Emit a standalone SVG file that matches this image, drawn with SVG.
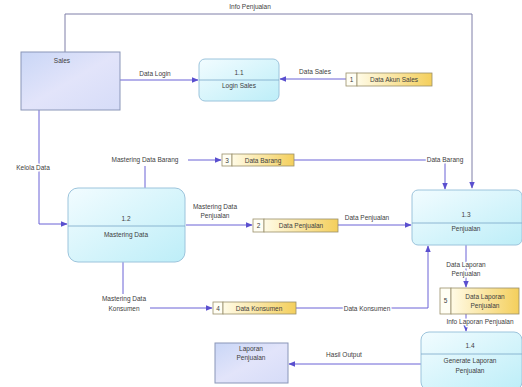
<svg xmlns="http://www.w3.org/2000/svg" width="522" height="387" viewBox="0 0 522 387">
<defs>
<linearGradient id="gp" x1="0" y1="0" x2="1" y2="1"><stop offset="0" stop-color="#f2fcff"/><stop offset="1" stop-color="#bdeef8"/></linearGradient>
<linearGradient id="ge" x1="0" y1="0" x2="1" y2="1"><stop offset="0" stop-color="#c9d6f6"/><stop offset="0.5" stop-color="#e2e4fa"/><stop offset="1" stop-color="#d6dcf8"/></linearGradient>
<linearGradient id="gs" x1="0" y1="0" x2="1" y2="0"><stop offset="0" stop-color="#fffbe6"/><stop offset="1" stop-color="#f4cf5c"/></linearGradient>
<marker id="ah" viewBox="0 0 10 10" refX="9" refY="5" markerWidth="7" markerHeight="7" orient="auto"><path d="M0,1 L10,5 L0,9 Z" fill="#5a4fcf"/></marker>
<style>
.ln{fill:none;stroke:#6b62d6;stroke-width:1}
.lg{fill:none;stroke:#7f7fa8;stroke-width:1}
.t{font-family:"Liberation Sans",Arial,sans-serif;font-size:6.5px;fill:#404040}
.tc{text-anchor:middle}
.h{stroke:#ffffff;stroke-width:3;paint-order:stroke;stroke-linejoin:round}
.proc{fill:url(#gp);stroke:#9cc4dc;stroke-width:1}
.ent{fill:url(#ge);stroke:#8a96b8;stroke-width:1}
.stn{fill:#fffef4;stroke:#9a8f6a;stroke-width:0.8}
.sts{fill:url(#gs);stroke:#9a8f6a;stroke-width:0.8}
.div{stroke:#7aa6c8;stroke-width:0.8}
</style>
</defs>
<g id="connectors">
<path class="lg" d="M65,52 V14 H472 V188" marker-end="url(#ah)"/>
<text class="t tc" x="250" y="9">Info Penjualan</text>
<path class="ln" d="M120,80 H198" marker-end="url(#ah)"/>
<text class="t tc" x="155" y="76">Data Login</text>
<path class="ln" d="M346,79 H280" marker-end="url(#ah)"/>
<text class="t tc" x="315" y="74">Data Sales</text>
<path class="ln" d="M39,110 V224 H67" marker-end="url(#ah)"/>
<text class="t tc h" x="33" y="170">Kelola Data</text>
<path class="ln" d="M145,188 V166"/>
<path class="ln" d="M188,160 H221" marker-end="url(#ah)"/>
<text class="t tc h" x="145" y="162">Mastering Data Barang</text>
<path class="ln" d="M294,160 H445 V189" marker-end="url(#ah)"/>
<text class="t tc h" x="445" y="162">Data Barang</text>
<path class="ln" d="M186,225 H252" marker-end="url(#ah)"/>
<text class="t tc" x="215" y="209">Mastering Data</text>
<text class="t tc" x="215" y="218">Penjualan</text>
<path class="ln" d="M338,225 H411" marker-end="url(#ah)"/>
<text class="t tc" x="367" y="220">Data Penjualan</text>
<path class="ln" d="M123,262 V294"/>
<path class="ln" d="M150,308 H212" marker-end="url(#ah)"/>
<text class="t tc h" x="124" y="301">Mastering Data</text>
<text class="t tc h" x="124" y="311">Konsumen</text>
<path class="ln" d="M296,308 H428 V246" marker-end="url(#ah)"/>
<text class="t tc h" x="367" y="311">Data Konsumen</text>
<path class="ln" d="M466,245 V287" marker-end="url(#ah)"/>
<text class="t tc h" x="466" y="267">Data Laporan</text>
<text class="t tc h" x="466" y="276">Penjualan</text>
<path class="ln" d="M466,314 V331" marker-end="url(#ah)"/>
<text class="t tc h" x="480" y="324">Info Laporan Penjualan</text>
<path class="ln" d="M421,364 H289" marker-end="url(#ah)"/>
<text class="t tc" x="344" y="357">Hasil Output</text>
</g>
<g id="sales">
<rect class="ent" x="21" y="52" width="99" height="58"/>
<text class="t tc" x="62" y="63">Sales</text>
</g>
<g id="p11">
<rect class="proc" x="199" y="59" width="80" height="42" rx="6"/>
<line class="div" x1="199" y1="80" x2="279" y2="80"/>
<text class="t tc" x="239" y="75">1.1</text>
<text class="t tc" x="239" y="88">Login Sales</text>
</g>
<g id="ds1">
<rect class="stn" x="346" y="73" width="11" height="13"/>
<rect class="sts" x="357" y="73" width="75" height="13"/>
<text class="t tc" x="351.5" y="82">1</text>
<text class="t tc" x="394" y="82">Data Akun Sales</text>
</g>
<g id="p12">
<rect class="proc" x="68" y="188" width="117" height="74" rx="10"/>
<line class="div" x1="68" y1="226" x2="185" y2="226"/>
<text class="t tc" x="126" y="221">1.2</text>
<text class="t tc" x="126" y="237">Mastering Data</text>
</g>
<g id="ds3">
<rect class="stn" x="222" y="154" width="10" height="12"/>
<rect class="sts" x="232" y="154" width="62" height="12"/>
<text class="t tc" x="227" y="162.5">3</text>
<text class="t tc" x="263" y="162.5">Data Barang</text>
</g>
<g id="ds2">
<rect class="stn" x="253" y="219" width="11" height="13"/>
<rect class="sts" x="264" y="219" width="74" height="13"/>
<text class="t tc" x="258.5" y="228">2</text>
<text class="t tc" x="301" y="228">Data Penjualan</text>
</g>
<g id="p13">
<rect class="proc" x="412" y="190" width="110" height="55" rx="6"/>
<line class="div" x1="412" y1="223" x2="522" y2="223"/>
<text class="t tc" x="466" y="217">1.3</text>
<text class="t tc" x="466" y="231">Penjualan</text>
</g>
<g id="ds4">
<rect class="stn" x="213" y="302" width="10" height="12"/>
<rect class="sts" x="223" y="302" width="73" height="12"/>
<text class="t tc" x="218" y="310.5">4</text>
<text class="t tc" x="259" y="310.5">Data Konsumen</text>
</g>
<g id="ds5">
<rect class="stn" x="440" y="288" width="11" height="26"/>
<rect class="sts" x="451" y="288" width="68" height="26"/>
<text class="t tc" x="445.5" y="303">5</text>
<text class="t tc" x="485" y="299">Data Laporan</text>
<text class="t tc" x="485" y="308">Penjualan</text>
</g>
<g id="p14">
<rect class="proc" x="421" y="332" width="101" height="58" rx="8"/>
<line class="div" x1="421" y1="354" x2="522" y2="354"/>
<text class="t tc" x="470" y="348">1.4</text>
<text class="t tc" x="470" y="363">Generate Laporan</text>
<text class="t tc" x="470" y="373">Penjualan</text>
</g>
<g id="laporan">
<rect class="ent" x="215" y="343" width="73" height="40"/>
<text class="t tc" x="251" y="351">Laporan</text>
<text class="t tc" x="251" y="360">Penjualan</text>
</g>
</svg>
